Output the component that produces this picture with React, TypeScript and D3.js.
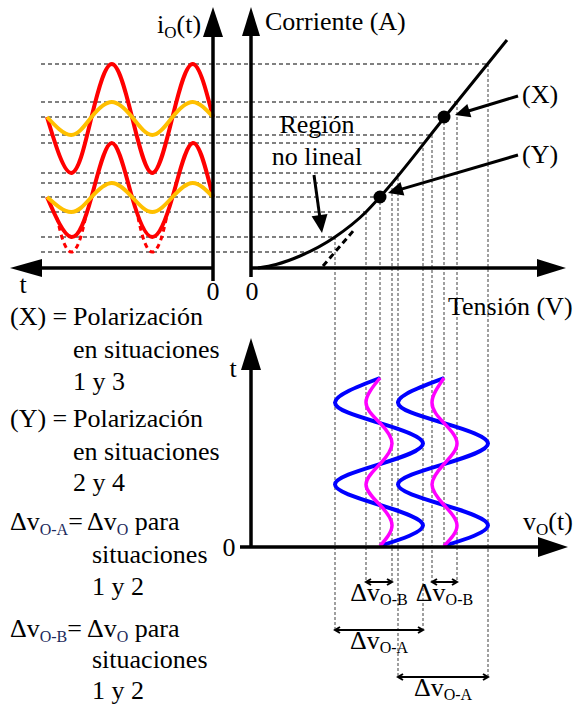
import React from "react";
import * as d3 from "d3";

// time knots (ms) shared by every waveform, one cycle is 20 ms
const timeKnots = [0, 5, 10, 15, 20, 25, 30, 35, 41];

// i_O(t) read on the current axis (mA)
const redX = [15.1, 20.4, 15.1, 9.5, 15.1, 20.4, 15.1, 9.5, 15.1];
const yellowX = [15.1, 16.6, 15.1, 13.3, 15.1, 16.6, 15.1, 13.3, 15.1];
const redY = [7.1, 12.5, 7.1, 3.1, 7.1, 12.5, 7.1, 3.1, 7.1];
const yellowY = [7.1, 8.5, 7.1, 5.6, 7.1, 8.5, 7.1, 5.6, 7.1];
// ideal (linear) troughs of the lower red wave, dashed
const idealTimes = [[11.5, 13, 15, 17, 18.5], [31.5, 33, 35, 37, 38.5]];
const idealCurr = [5.0, 2.7, 1.6, 2.7, 5.0];

// v_O(t) read on the voltage axis (V)
const blueY = [12.9, 17.2, 12.9, 8.4, 12.9, 17.2, 12.9, 8.4, 12.9];
const pinkY = [12.9, 14.1, 12.9, 11.5, 12.9, 14.1, 12.9, 11.5, 12.9];
const blueX = [19.3, 23.7, 19.3, 14.7, 19.3, 23.7, 19.3, 14.7, 19.3];
const pinkX = [19.3, 20.6, 19.3, 18.1, 19.3, 20.6, 19.3, 18.1, 19.3];

// I-V characteristic
const ivVolt = [0.7, 2.5, 4.9, 8.4, 11.5, 12.9, 19.3, 25.6];
const ivCurr = [0, 0.35, 1.2, 3.1, 5.6, 7.1, 15.0, 22.8];
const ivLinVolt = [7.2, 10.3];
const ivLinCurr = [0.2, 3.8];

// bias points
const biasVolt = [19.3, 12.9];
const biasCurr = [15.1, 7.1];

// projection levels: current -> voltage, and which bracket row the drop line reaches
const levelCurr = [20.4, 16.6, 15.1, 13.3, 12.5, 9.5, 8.5, 7.1, 5.6, 3.1, 1.6];
const levelVolt = [23.7, 20.6, 19.3, 18.1, 17.2, 14.7, 14.1, 12.9, 11.5, 8.4, 8.4];
const levelRow = [3, 1, 0, 1, 2, 3, 1, 0, 1, 2, -1];

// Δv brackets
const bracketSub = ["O-B", "O-B", "O-A", "O-A"];
const bracketFrom = [11.5, 18.1, 8.4, 14.7];
const bracketTo = [14.1, 20.6, 17.2, 23.7];
const bracketRow = [1, 1, 2, 3];

const FONT = "'Liberation Serif', 'Times New Roman', serif";

function Arrow({ x1, y1, x2, y2, len = 16, half = 8, w = 3 }: any) {
  const a = Math.atan2(y2 - y1, x2 - x1);
  const bx = x2 - len * Math.cos(a), by = y2 - len * Math.sin(a);
  const px = -Math.sin(a) * half, py = Math.cos(a) * half;
  return (
    <g>
      <line x1={x1} y1={y1} x2={bx + Math.cos(a)} y2={by + Math.sin(a)} stroke="#000" strokeWidth={w} />
      <polygon points={`${x2},${y2} ${bx + px},${by + py} ${bx - px},${by - py}`} fill="#000" />
    </g>
  );
}

export default function App() {
  const tLeft = d3.scaleLinear().domain([0, 41]).range([213, 47]);
  const iScale = d3.scaleLinear().domain([0, 25]).range([268, 18]);
  const vScale = d3.scaleLinear().domain([0, 30]).range([251, 551]);
  const tBottom = d3.scaleLinear().domain([0, 41]).range([546, 378]);
  const rowY = [547, 582, 630, 677];

  const iLine = d3.line<number[]>().x(d => tLeft(d[0])).y(d => iScale(d[1])).curve(d3.curveNatural);
  const vLine = d3.line<number[]>().x(d => vScale(d[1])).y(d => tBottom(d[0])).curve(d3.curveNatural);
  const ivLine = d3.line<number[]>().x(d => vScale(d[0])).y(d => iScale(d[1])).curve(d3.curveMonotoneX);
  const zip = (a: number[], b: number[]) => a.map((v, k) => [v, b[k]]);

  const waveI = (vals: number[]) => iLine(zip(timeKnots, vals)) || "";
  const waveV = (vals: number[]) => vLine(zip(timeKnots, vals)) || "";

  const legend = [
    { x: 10, y: 325, t: "(X) =" }, { x: 73, y: 325, t: "Polarización" },
    { x: 73, y: 358, t: "en situaciones" }, { x: 73, y: 390, t: "1 y 3" },
    { x: 10, y: 427, t: "(Y) =" }, { x: 73, y: 427, t: "Polarización" },
    { x: 73, y: 460, t: "en situaciones" }, { x: 73, y: 491, t: "2 y 4" },
    { x: 92, y: 563, t: "situaciones" }, { x: 92, y: 595, t: "1 y 2" },
    { x: 92, y: 668, t: "situaciones" }, { x: 92, y: 699, t: "1 y 2" },
  ];

  return (
    <svg width={577} height={706} style={{ position: "absolute", left: 0, top: 0, background: "#fff" }}
      fontFamily={FONT} fontSize={26}>
      {/* projection dashed lines */}
      {levelCurr.map((c, k) => (
        <line key={"h" + k} x1={41} x2={vScale(levelVolt[k])} y1={iScale(c)} y2={iScale(c)}
          stroke="#808080" strokeWidth={2} strokeDasharray="4 3" />
      ))}
      {levelCurr.map((c, k) => levelRow[k] < 0 ? null : (
        <line key={"v" + k} x1={vScale(levelVolt[k])} x2={vScale(levelVolt[k])} y1={iScale(c)} y2={rowY[levelRow[k]]}
          stroke="#808080" strokeWidth={1.5} strokeDasharray="3 2" />
      ))}

      {/* current waveforms */}
      {idealTimes.map((ts, k) => (
        <path key={"id" + k} d={iLine(zip(ts, idealCurr)) || ""} fill="none" stroke="#ff0000" strokeWidth={3} strokeDasharray="5 4" />
      ))}
      <path d={waveI(redX)} fill="none" stroke="#ff0000" strokeWidth={4} />
      <path d={waveI(redY)} fill="none" stroke="#ff0000" strokeWidth={4} />
      <path d={waveI(yellowX)} fill="none" stroke="#ffc000" strokeWidth={4} />
      <path d={waveI(yellowY)} fill="none" stroke="#ffc000" strokeWidth={4} />

      {/* voltage waveforms */}
      <path d={waveV(blueY)} fill="none" stroke="#0000ff" strokeWidth={4} />
      <path d={waveV(blueX)} fill="none" stroke="#0000ff" strokeWidth={4} />
      <path d={waveV(pinkY)} fill="none" stroke="#ff00ff" strokeWidth={3.5} />
      <path d={waveV(pinkX)} fill="none" stroke="#ff00ff" strokeWidth={3.5} />

      {/* I-V characteristic */}
      <path d={ivLine(zip(ivLinVolt, ivLinCurr)) || ""} fill="none" stroke="#000" strokeWidth={3} strokeDasharray="6 4" />
      <path d={ivLine(zip(ivVolt, ivCurr)) || ""} fill="none" stroke="#000" strokeWidth={3} />
      {biasVolt.map((v, k) => (
        <circle key={"b" + k} cx={vScale(v)} cy={iScale(biasCurr[k])} r={6.5} fill="#000" />
      ))}

      {/* axes */}
      <Arrow x1={213} y1={281} x2={213} y2={7} len={30} half={10} w={3.5} />
      <Arrow x1={213} y1={268} x2={10} y2={268} len={32} half={9} w={3.5} />
      <Arrow x1={251} y1={277} x2={251} y2={7} len={29} half={9} w={3.5} />
      <Arrow x1={251} y1={268} x2={566} y2={268} len={29} half={9} w={3.5} />
      <Arrow x1={251} y1={547} x2={251} y2={338} len={32} half={10} w={3.5} />
      <Arrow x1={240} y1={547} x2={568} y2={547} len={30} half={10} w={3.5} />

      {/* annotation arrows */}
      <Arrow x1={vScale(26.7)} y1={iScale(17.2)} x2={vScale(20.4)} y2={iScale(15.3)} len={15} half={7} w={3} />
      <Arrow x1={vScale(26.7)} y1={iScale(11.3)} x2={vScale(13.7)} y2={iScale(7.5)} len={15} half={7} w={3} />
      <Arrow x1={vScale(6.3)} y1={iScale(9.3)} x2={vScale(7.1)} y2={iScale(3.5)} len={18} half={8} w={3} />

      {/* brackets */}
      {bracketSub.map((s, k) => {
        const x1 = vScale(bracketFrom[k]), x2 = vScale(bracketTo[k]), y = rowY[bracketRow[k]];
        return (
          <g key={"br" + k}>
            <path d={`M${x1 + 5},${y - 3}L${x1},${y}L${x1 + 5},${y + 3}M${x1},${y}H${x2}M${x2 - 5},${y - 3}L${x2},${y}L${x2 - 5},${y + 3}`}
              fill="none" stroke="#000" strokeWidth={2} />
            <text x={(x1 + x2) / 2} y={y + 19} textAnchor="middle">Δv<tspan fontSize={16} dy={4}>{s}</tspan></text>
          </g>
        );
      })}

      {/* axis labels */}
      <text x={157} y={33}>i<tspan fontSize={17} dy={5}>O</tspan><tspan dy={-5}>(t)</tspan></text>
      <text x={265} y={30}>Corriente (A)</text>
      <text x={23} y={293} textAnchor="middle">t</text>
      <text x={213} y={300} textAnchor="middle">0</text>
      <text x={252} y={300} textAnchor="middle">0</text>
      <text x={448} y={315}>Tensión (V)</text>
      <text x={vScale(27.1)} y={iScale(16.5)}>(X)</text>
      <text x={vScale(27.1)} y={iScale(10.5)}>(Y)</text>
      <text x={vScale(6.6)} y={iScale(13.5)} textAnchor="middle">Región</text>
      <text x={vScale(6.6)} y={iScale(10.3)} textAnchor="middle">no lineal</text>
      <text x={233} y={377} textAnchor="middle">t</text>
      <text x={229} y={556} textAnchor="middle">0</text>
      <text x={523} y={530}>v<tspan fontSize={17} dy={5}>O</tspan><tspan dy={-5}>(t)</tspan></text>

      {/* legend */}
      {legend.map((l, k) => <text key={"l" + k} x={l.x} y={l.y}>{l.t}</text>)}
      <text x={10} y={530}>Δv<tspan fontSize={16} dy={5} fill="#1c2a5c">O-A</tspan><tspan dy={-5}>=</tspan></text>
      <text x={87} y={530}>Δv<tspan fontSize={16} dy={5} fill="#1c2a5c">O</tspan><tspan dy={-5}> para</tspan></text>
      <text x={10} y={637}>Δv<tspan fontSize={16} dy={5} fill="#1c2a5c">O-B</tspan><tspan dy={-5}>=</tspan></text>
      <text x={87} y={637}>Δv<tspan fontSize={16} dy={5} fill="#1c2a5c">O</tspan><tspan dy={-5}> para</tspan></text>
    </svg>
  );
}
